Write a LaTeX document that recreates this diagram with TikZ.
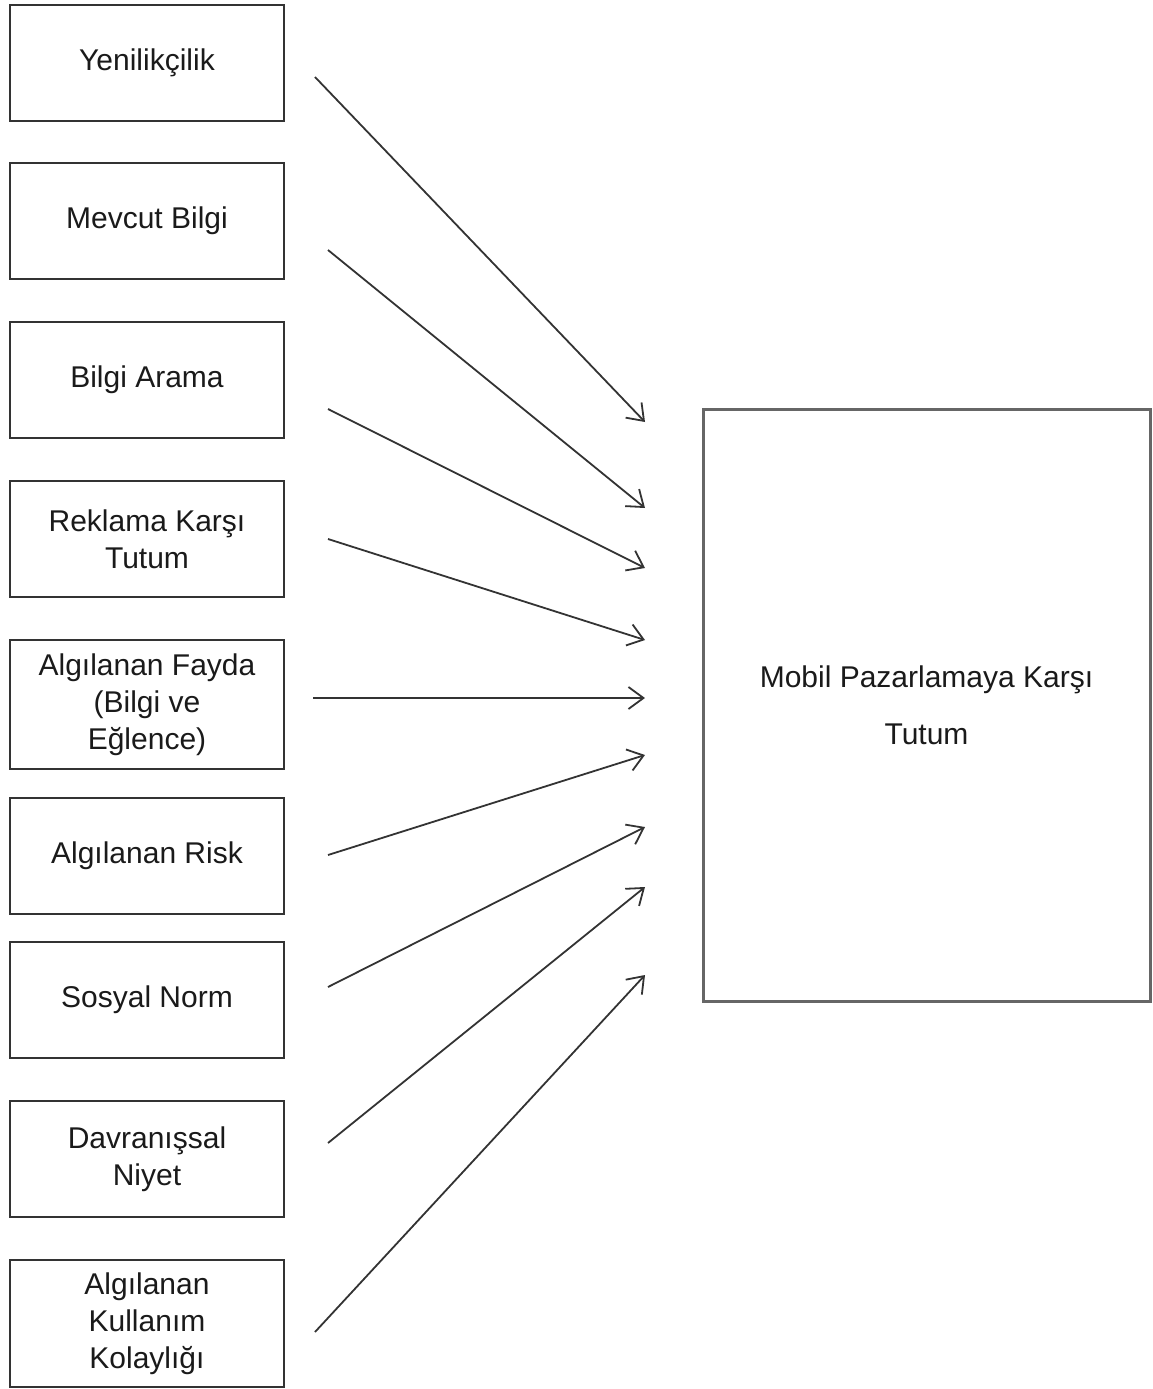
\documentclass[tikz,border=0pt]{standalone}
\usepackage{fontspec}
\setmainfont{Liberation Sans}
\usetikzlibrary{arrows.meta}
\definecolor{edge}{HTML}{333333}
\definecolor{ink}{HTML}{1A1A1A}

\begin{document}
\begin{tikzpicture}[x=1pt,y=-1pt,
  factor/.style={draw=edge, line width=2pt, minimum width=274pt, minimum height=116pt,
    align=center, inner sep=0pt, text=ink, font=\fontsize{30}{37}\selectfont},
  target/.style={draw=edge!75, line width=3pt, minimum width=447pt, minimum height=592pt,
    align=center, inner sep=0pt, text=ink, font=\fontsize{30}{57}\selectfont},
  link/.style={draw=edge, line width=1.8pt, -{Straight Barb[length=15pt,width=22pt]}}]
\useasboundingbox (0,0) rectangle (1152,1389);

% factor boxes on the left
\node[factor] (f1) at (147,63) {Yenilikçilik};
\node[factor] (f2) at (147,221) {Mevcut Bilgi};
\node[factor] (f3) at (147,380) {Bilgi Arama};
\node[factor] (f4) at (147,539) {Reklama Karşı\\Tutum};
\node[factor, minimum height=129pt] (f5) at (147,704.5) {Algılanan Fayda\\(Bilgi ve\\Eğlence)};
\node[factor] (f6) at (147,855.5) {Algılanan Risk};
\node[factor] (f7) at (147,999.5) {Sosyal Norm};
\node[factor] (f8) at (147,1159) {Davranışsal\\Niyet};
\node[factor, minimum height=127pt] (f9) at (147,1323.5) {Algılanan\\Kullanım\\Kolaylığı};

% outcome box on the right
\node[target] (t) at (926.5,705) {Mobil Pazarlamaya Karşı\\Tutum};

% arrow end points
\coordinate (s1) at (315,77);   \coordinate (e1) at (645,422);
\coordinate (s2) at (328,250);  \coordinate (e2) at (645,508);
\coordinate (s3) at (328,409);  \coordinate (e3) at (645,568);
\coordinate (s4) at (328,539);  \coordinate (e4) at (645,640);
\coordinate (s5) at (313,698);  \coordinate (e5) at (645,698);
\coordinate (s6) at (328,855);  \coordinate (e6) at (645,755);
\coordinate (s7) at (328,987);  \coordinate (e7) at (645,827);
\coordinate (s8) at (328,1143); \coordinate (e8) at (645,887);
\coordinate (s9) at (315,1332); \coordinate (e9) at (645,975);

\foreach \i in {1,...,9} {
  \draw[link] (s\i) -- (e\i);
}
\end{tikzpicture}
\end{document}
